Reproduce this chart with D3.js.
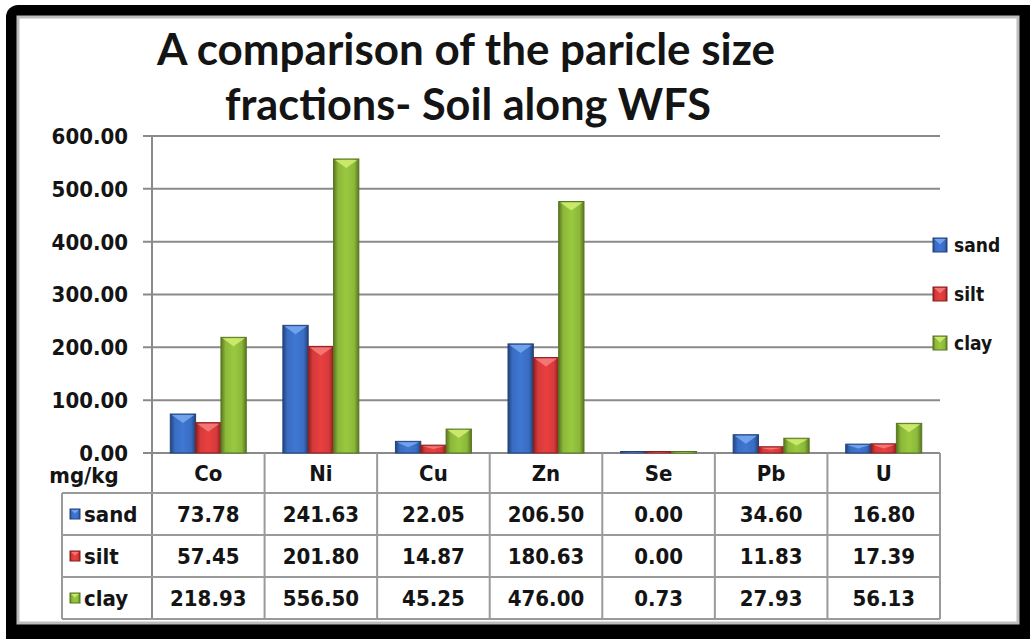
<!DOCTYPE html>
<html>
  <head>
    <meta charset="utf-8">
    <style>
      body { margin: 0; background: #fff; }
      svg text { fill: #141414; }
      .num { font-family: "DejaVu Sans Condensed", "DejaVu Sans", Verdana, sans-serif; font-weight: bold; font-stretch: condensed; }
    </style>
  </head>
  <body>
    <svg id="chart" width="1030" height="639"></svg>
  </body>
  <script src="https://cdn.jsdelivr.net/npm/d3@7"></script>
  <script>
    // data
    var metals = ["Co", "Ni", "Cu", "Zn", "Se", "Pb", "U"];
    var fractions = ["sand", "silt", "clay"];
    var sand = [73.78, 241.63, 22.05, 206.50, 0.00, 34.60, 16.80];
    var silt = [57.45, 201.80, 14.87, 180.63, 0.00, 11.83, 17.39];
    var clay = [218.93, 556.50, 45.25, 476.00, 0.73, 27.93, 56.13];
    var yTicks = [0, 100, 200, 300, 400, 500, 600];
    var titleLines = ["A comparison of the paricle size", "fractions- Soil along WFS"];
    var unitLabel = "mg/kg";

    var values = { sand: sand, silt: silt, clay: clay };
    var colors = {
      sand: { base: "#3a6dc2", dark: "#23437c", light: "#7aaaf0" },
      silt: { base: "#d63a3a", dark: "#8a1f1f", light: "#f58080" },
      clay: { base: "#8cb83a", dark: "#587620", light: "#d2ee74" }
    };

    var svg = d3.select("#chart");
    var defs = svg.append("defs");

    // frame
    svg.append("rect").attr("x", 6).attr("y", 5).attr("width", 1040).attr("height", 650)
      .attr("rx", 12).attr("fill", "#000");
    svg.append("rect").attr("x", 18).attr("y", 17).attr("width", 1000).attr("height", 606)
      .attr("fill", "#fff").attr("stroke", "#bdbdbd").attr("stroke-width", 3);

    var plotLeft = 152, plotRight = 940, plotTop = 136, zero = 453;
    var x0 = d3.scaleBand().domain(metals).range([plotLeft, plotRight]);
    var bw = x0.bandwidth();
    var groupW = bw * 0.675;
    var x1 = d3.scaleBand().domain(fractions).range([(bw - groupW) / 2, (bw + groupW) / 2]);
    var y = d3.scaleLinear().domain([0, 600]).range([zero, plotTop]);

    // gradients for the bevelled bars
    fractions.forEach(function(f) {
      var g = defs.append("linearGradient").attr("id", "g-" + f)
        .attr("x1", "0%").attr("x2", "100%").attr("y1", "0%").attr("y2", "0%");
      g.append("stop").attr("offset", "0%").attr("stop-color", colors[f].dark);
      g.append("stop").attr("offset", "18%").attr("stop-color", colors[f].base);
      g.append("stop").attr("offset", "50%").attr("stop-color", d3.color(colors[f].base).brighter(0.25));
      g.append("stop").attr("offset", "82%").attr("stop-color", colors[f].base);
      g.append("stop").attr("offset", "100%").attr("stop-color", colors[f].dark);
    });

    // title
    var titleW = [618, 486];
    var titleX = [157, 225];
    var titleY = [65, 120];
    titleLines.forEach(function(t, i) {
      svg.append("text").attr("x", titleX[i]).attr("y", titleY[i])
        .attr("font-family", "Lato, 'Open Sans', sans-serif").attr("font-weight", "bold")
        .attr("font-size", 43).attr("textLength", titleW[i]).attr("lengthAdjust", "spacingAndGlyphs")
        .text(t);
    });

    // gridlines + ticks
    var axisG = svg.append("g");
    axisG.selectAll("line.grid").data(yTicks).enter().append("line")
      .attr("x1", plotLeft - 9).attr("x2", plotRight)
      .attr("y1", function(d) { return y(d); }).attr("y2", function(d) { return y(d); })
      .attr("stroke", "#8a8a8a").attr("stroke-width", 2);
    axisG.append("line").attr("x1", plotLeft).attr("x2", plotLeft).attr("y1", plotTop).attr("y2", 619)
      .attr("stroke", "#8a8a8a").attr("stroke-width", 2);
    axisG.selectAll("text").data(yTicks).enter().append("text")
      .attr("class", "num").attr("font-size", 22)
      .attr("x", 128).attr("y", function(d) { return y(d); }).attr("dy", "0.36em")
      .attr("text-anchor", "end")
      .text(function(d) { return d3.format(".2f")(d); });

    // bars
    var groups = svg.append("g").selectAll("g").data(metals).enter().append("g")
      .attr("transform", function(d) { return "translate(" + x0(d) + ",0)"; });
    groups.each(function(m, i) {
      var g = d3.select(this);
      fractions.forEach(function(f) {
        var v = values[f][i];
        var bx = x1(f), w = x1.bandwidth(), by = y(v), h = zero - by;
        if (h < 1.5) { by = zero - 1.5; h = 1.5; }
        g.append("rect").attr("x", bx).attr("y", by).attr("width", w).attr("height", h)
          .attr("fill", "url(#g-" + f + ")").attr("stroke", colors[f].dark).attr("stroke-width", 1);
        var d = Math.min(9, h * 0.5);
        g.append("path")
          .attr("d", "M" + (bx + 1.5) + "," + (by + 1) + "L" + (bx + w - 1.5) + "," + (by + 1) +
            "L" + (bx + w / 2) + "," + (by + d) + "Z")
          .attr("fill", colors[f].light).attr("opacity", 0.85);
      });
    });

    // data table
    var rowY = d3.scaleBand().domain(fractions).range([493, 619]);
    var table = svg.append("g");
    var tStroke = "#9a9a9a";
    table.append("line").attr("x1", 62).attr("x2", plotRight).attr("y1", 493).attr("y2", 493)
      .attr("stroke", tStroke).attr("stroke-width", 2);
    fractions.forEach(function(f) {
      var yb = rowY(f) + rowY.bandwidth();
      table.append("line").attr("x1", 62).attr("x2", plotRight).attr("y1", yb).attr("y2", yb)
        .attr("stroke", tStroke).attr("stroke-width", 2);
    });
    table.append("line").attr("x1", 62).attr("x2", 62).attr("y1", 493).attr("y2", 619)
      .attr("stroke", tStroke).attr("stroke-width", 2);
    metals.forEach(function(m) {
      var xr = x0(m) + bw;
      table.append("line").attr("x1", xr).attr("x2", xr).attr("y1", zero).attr("y2", 619)
        .attr("stroke", tStroke).attr("stroke-width", 2);
      table.append("text").attr("class", "num").attr("font-size", 22)
        .attr("x", x0(m) + bw / 2).attr("y", 473).attr("dy", "0.36em")
        .attr("text-anchor", "middle").text(m);
    });
    table.append("text").attr("class", "num").attr("font-size", 22)
      .attr("x", 84).attr("y", 475).attr("dy", "0.36em").attr("text-anchor", "middle").text(unitLabel);

    function legendKey(g, f, kx, ky, s) {
      g.append("rect").attr("x", kx).attr("y", ky).attr("width", s).attr("height", s)
        .attr("fill", "url(#g-" + f + ")").attr("stroke", colors[f].dark).attr("stroke-width", 1);
      g.append("path")
        .attr("d", "M" + (kx + 1) + "," + (ky + 1) + "L" + (kx + s - 1) + "," + (ky + 1) +
          "L" + (kx + s / 2) + "," + (ky + s * 0.45) + "Z")
        .attr("fill", colors[f].light).attr("opacity", 0.85);
    }

    fractions.forEach(function(f) {
      var cy = rowY(f) + rowY.bandwidth() / 2;
      legendKey(table, f, 70, cy - 5, 10);
      table.append("text").attr("class", "num").attr("font-size", 22)
        .attr("x", 84).attr("y", cy).attr("dy", "0.36em").text(f);
      metals.forEach(function(m, i) {
        table.append("text").attr("class", "num").attr("font-size", 22)
          .attr("x", x0(m) + bw / 2).attr("y", cy).attr("dy", "0.36em")
          .attr("text-anchor", "middle").text(d3.format(".2f")(values[f][i]));
      });
    });

    // legend on the right
    var legY = d3.scalePoint().domain(fractions).range([245, 343]);
    var legend = svg.append("g");
    fractions.forEach(function(f) {
      legendKey(legend, f, 933, legY(f) - 7, 14);
      legend.append("text").attr("class", "num").attr("font-size", 19)
        .attr("x", 954).attr("y", legY(f)).attr("dy", "0.36em").text(f);
    });
  </script>
</html>
